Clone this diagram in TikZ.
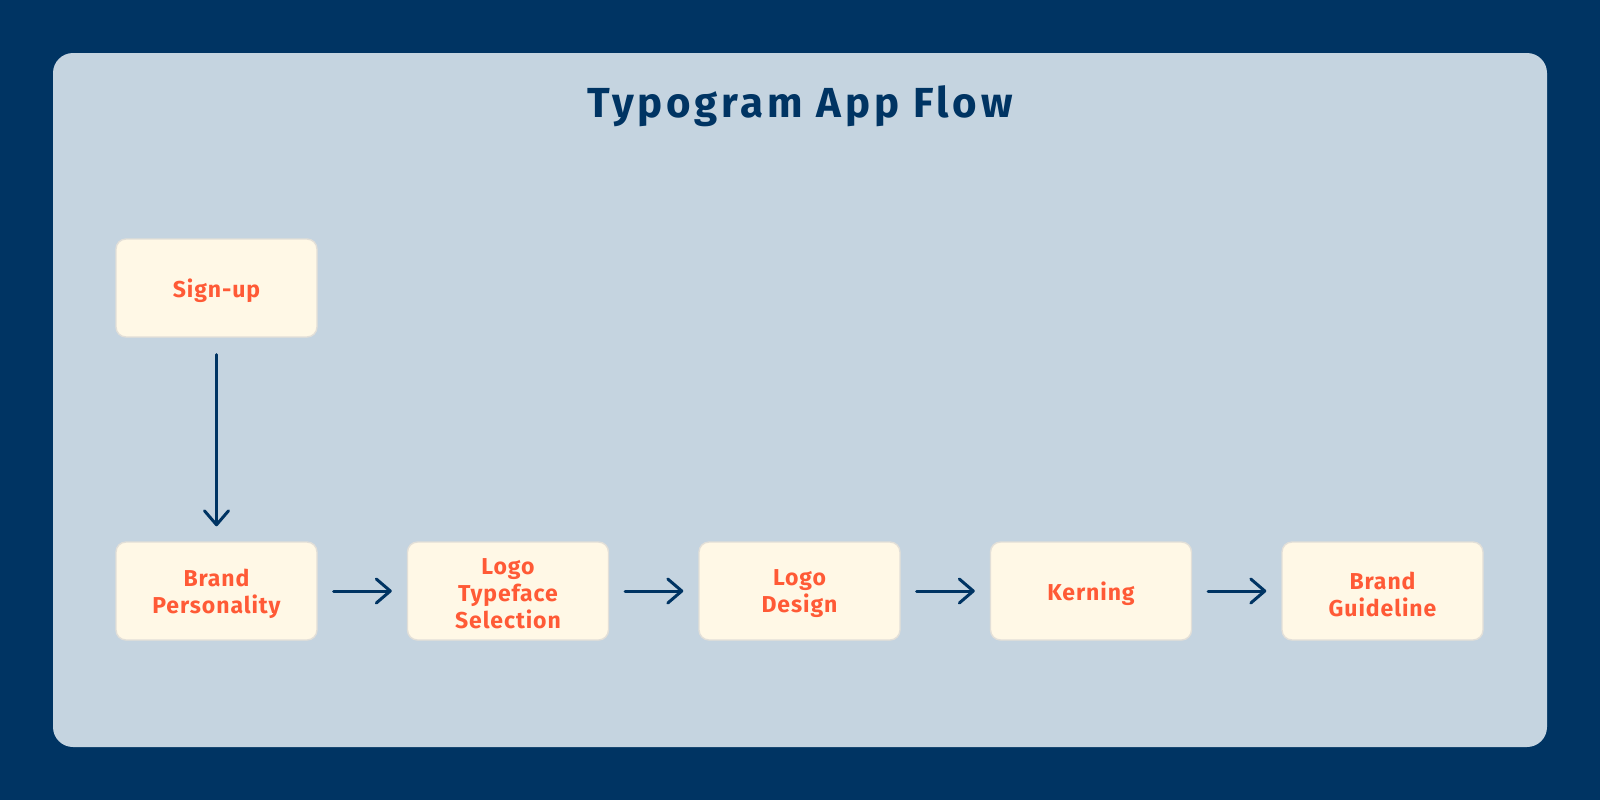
\documentclass[tikz,border=0pt]{standalone}
\usepackage{fontspec}
\setmainfont{Fira Sans}
\newfontfamily\titlefont[LetterSpace=9]{Fira Sans}
\newfontfamily\boxfont[LetterSpace=4]{Fira Sans}
\usetikzlibrary{arrows.meta}
\definecolor{navy}{HTML}{003463}
\definecolor{panel}{HTML}{C5D4E0}
\definecolor{boxfill}{HTML}{FFF8E6}
\definecolor{boxline}{HTML}{E2DFD8}
\definecolor{orangetext}{HTML}{FF5A36}
\begin{document}
\begin{tikzpicture}[x=0.5pt,y=-0.5pt,
  stepbox/.style={draw=boxline, line width=0.7pt, fill=boxfill, rounded corners=5pt,
    minimum width=100.5pt, minimum height=49pt, inner sep=0pt, align=center,
    text=orangetext, font=\boxfont\fontsize{11.5pt}{13.5pt}\selectfont\bfseries},
  label/.style={text=orangetext, align=center, inner sep=0pt,
    font=\boxfont\fontsize{11.5pt}{13.5pt}\selectfont\bfseries},
  flow/.style={draw=navy, line width=1.5pt, line cap=round,
    -{Straight Barb[length=7pt,width=12pt,line width=1.5pt,round]}}]
\fill[navy] (0,0) rectangle (1600,800);
\useasboundingbox (0,0) rectangle (1600,800);
\fill[panel, rounded corners=10pt] (53,53) rectangle (1547,747);
\node[anchor=base, text=navy, font=\titlefont\fontsize{21pt}{24pt}\selectfont\bfseries] (title) at (800,117) {Typogram App Flow};
\node[stepbox] (signup) at (216.5,288) {};
\node[stepbox] (brand) at (216.5,591) {};
\node[stepbox] (typeface) at (508,591) {};
\node[stepbox] (design) at (799.5,591) {};
\node[stepbox] (kerning) at (1091,591) {};
\node[stepbox] (guide) at (1382.5,591) {};
\node[label] (tsignup) at (216.5,291) {Sign-up};
\node[label] (tbrand) at (216.5,594) {Brand\\Personality};
\node[label] (ttypeface) at (508,594) {Logo\\Typeface\\Selection};
\node[label] (tdesign) at (799.5,594) {Logo\\Design};
\node[label] (tkerning) at (1091,594) {Kerning};
\node[label] (tguide) at (1382.5,594) {Brand\\Guideline};
\draw[flow] ([yshift=-8.5pt]signup.south) -- ([yshift=7.5pt]brand.north);
\draw[flow] ([xshift=8pt]brand.east) -- ([xshift=-7.5pt]typeface.west);
\draw[flow] ([xshift=8pt]typeface.east) -- ([xshift=-7.5pt]design.west);
\draw[flow] ([xshift=8pt]design.east) -- ([xshift=-7.5pt]kerning.west);
\draw[flow] ([xshift=8pt]kerning.east) -- ([xshift=-7.5pt]guide.west);
\end{tikzpicture}
\end{document}
